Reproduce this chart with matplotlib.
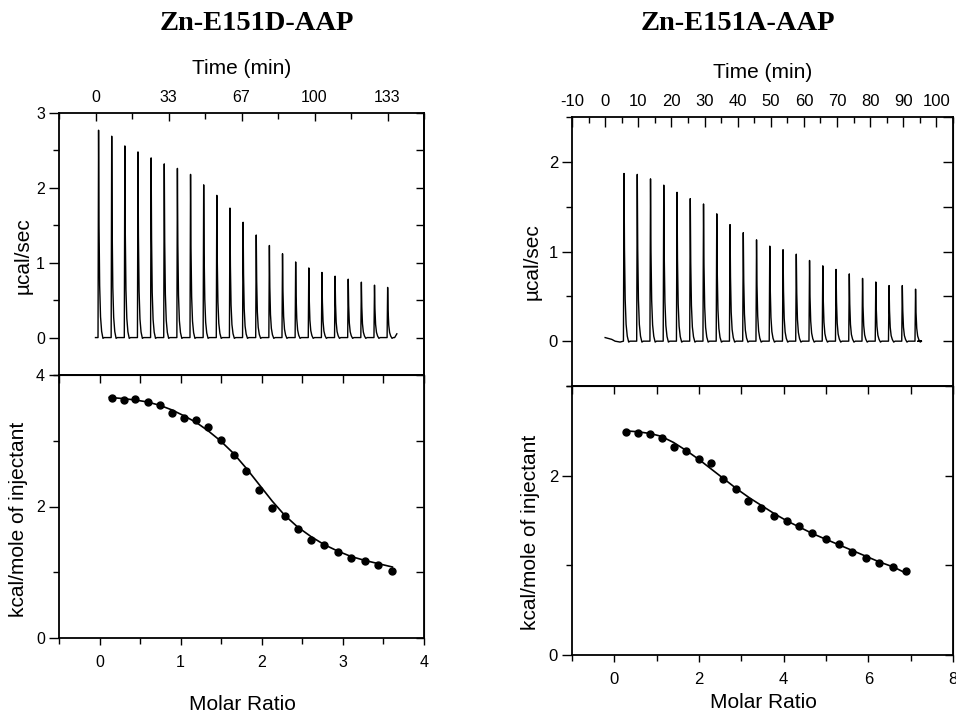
import numpy as np
import matplotlib
matplotlib.use("Agg")
import matplotlib.pyplot as plt
from matplotlib.ticker import FixedLocator, MultipleLocator, NullFormatter

plt.rcParams['axes.unicode_minus'] = False
plt.rcParams['font.family'] = ['Liberation Sans', 'DejaVu Sans']

# ---------------- data ----------------
titles = ["Zn-E151D-AAP", "Zn-E151A-AAP"]

# Left: Zn-E151D-AAP raw injection peaks (time in min, height in µcal/sec)
d_peak_times = [1.4, 7.4, 13.4, 19.4, 25.4, 31.4, 37.4, 43.4, 49.4, 55.4, 61.4, 67.4,
                73.4, 79.4, 85.4, 91.4, 97.4, 103.4, 109.4, 115.4, 121.4, 127.4, 133.4]
d_peak_heights = [2.77, 2.69, 2.56, 2.48, 2.40, 2.32, 2.26, 2.18, 2.04, 1.90, 1.73, 1.54,
                  1.37, 1.23, 1.12, 1.01, 0.93, 0.87, 0.82, 0.78, 0.74, 0.70, 0.67]
d_base_start, d_base_end, d_base_end_val = 0.0, 137.6, 0.05

# Left: integrated heats
d_ratio = [0.148, 0.296, 0.440, 0.593, 0.741, 0.889, 1.037, 1.193, 1.342, 1.494, 1.654, 1.811,
           1.967, 2.128, 2.284, 2.444, 2.609, 2.769, 2.938, 3.103, 3.272, 3.436, 3.609]
d_heat = [3.656, 3.625, 3.630, 3.595, 3.549, 3.428, 3.342, 3.316, 3.210, 3.018, 2.785, 2.547,
          2.253, 1.980, 1.853, 1.651, 1.489, 1.408, 1.306, 1.210, 1.165, 1.114, 1.013]
d_fit_x = [0.12, 0.30, 0.44, 0.59, 0.74, 0.89, 1.04, 1.19, 1.34, 1.49, 1.65, 1.81,
           1.97, 2.13, 2.28, 2.44, 2.61, 2.77, 2.94, 3.10, 3.27, 3.44, 3.61]
d_fit_y = [3.66, 3.64, 3.62, 3.59, 3.54, 3.47, 3.38, 3.28, 3.15, 3.00, 2.81, 2.58,
           2.33, 2.08, 1.87, 1.69, 1.54, 1.42, 1.32, 1.24, 1.18, 1.13, 1.08]

# Right: Zn-E151A-AAP raw injection peaks
a_peak_times = [5.7, 9.7, 13.7, 17.7, 21.7, 25.7, 29.7, 33.7, 37.7, 41.7, 45.7, 49.7,
                53.7, 57.7, 61.7, 65.7, 69.7, 73.7, 77.7, 81.7, 85.7, 89.7, 93.7]
a_peak_heights = [1.87, 1.86, 1.81, 1.74, 1.66, 1.59, 1.53, 1.42, 1.30, 1.21, 1.13, 1.06,
                  1.02, 0.97, 0.90, 0.84, 0.80, 0.75, 0.70, 0.66, 0.62, 0.62, 0.58]
a_base_start, a_base_end, a_base_end_val = 0.0, 95.4, 0.0
a_pre_t = [0.0, 1.0, 2.0, 3.0, 4.5]
a_pre_y = [0.04, 0.03, 0.02, 0.0, -0.01]

# Right: integrated heats
a_ratio = [0.276, 0.559, 0.843, 1.126, 1.409, 1.701, 1.992, 2.276, 2.575, 2.866, 3.165, 3.465,
           3.764, 4.071, 4.370, 4.677, 4.992, 5.299, 5.622, 5.937, 6.252, 6.575, 6.890]
a_heat = [2.485, 2.474, 2.466, 2.422, 2.317, 2.272, 2.187, 2.142, 1.966, 1.854, 1.720, 1.638,
          1.545, 1.496, 1.440, 1.358, 1.291, 1.235, 1.146, 1.078, 1.022, 0.985, 0.940]
a_fit_x = [0.25, 0.55, 0.85, 1.10, 1.40, 1.70, 2.00, 2.30, 2.60, 2.90, 3.20, 3.50,
           3.80, 4.10, 4.40, 4.70, 5.00, 5.30, 5.60, 5.90, 6.25, 6.60, 6.90]
a_fit_y = [2.50, 2.49, 2.47, 2.44, 2.37, 2.28, 2.18, 2.07, 1.96, 1.85, 1.75, 1.66,
           1.57, 1.49, 1.42, 1.35, 1.29, 1.23, 1.17, 1.11, 1.04, 0.98, 0.91]

# peak shape (relative time offsets, fraction of height)
shape_dt = [-0.25, 0.0, 0.2, 0.5, 0.9, 1.4, 2.0, 2.6]
shape_f = [0.0, 1.0, 0.55, 0.25, 0.10, 0.03, -0.005, 0.0]


def build_trace(times, heights, t0, t1, yend, scale, pre_t=None, pre_y=None):
    xs, ys = [], []
    if pre_t is not None:
        xs += list(pre_t)
        ys += list(pre_y)
    else:
        xs.append(t0)
        ys.append(0.0)
    for t, h in zip(times, heights):
        for dt, f in zip(shape_dt, shape_f):
            xs.append(t + dt * scale)
            ys.append(h * f if f >= 0 else f * 2)
    xs += [t1 - 1.0, t1]
    ys += [0.0, yend]
    return xs, ys


fig = plt.figure(figsize=(9.56, 7.15), dpi=100)

W, H = 956.0, 715.0


def ax_rect(l, r, t, b):
    return [l / W, 1 - b / H, (r - l) / W, (b - t) / H]


LS_L = 11.5
LS_R = 12


def style_axes(ax):
    for s in ax.spines.values():
        s.set_linewidth(1.3)


# ---------------- Left panel ----------------
axLT = fig.add_axes(ax_rect(59, 424, 113, 375))
axLB = fig.add_axes(ax_rect(59, 424, 375, 638))

x, y = build_trace(d_peak_times, d_peak_heights, d_base_start, d_base_end, d_base_end_val, 1.0)
axLT.plot(x, y, color='black', lw=1.0)
axLT.set_xlim(-1000 / 60, 9000 / 60)
axLT.set_ylim(-0.5, 3)
axLT.xaxis.set_major_locator(FixedLocator([0, 100 / 3, 200 / 3, 100, 400 / 3]))
axLT.set_xticklabels(["0", "33", "67", "100", "133"])
axLT.xaxis.set_minor_locator(MultipleLocator(50 / 3))
axLT.xaxis.set_ticks_position('top')
axLT.tick_params(axis='x', which='both', direction='in', top=True, bottom=False, pad=6,
                 width=1.0, labelsize=LS_L)
axLT.tick_params(axis='x', which='major', length=6)
axLT.tick_params(axis='x', which='minor', length=4)
axLT.yaxis.set_major_locator(MultipleLocator(1))
axLT.yaxis.set_minor_locator(MultipleLocator(0.5))
axLT.tick_params(axis='y', which='both', direction='out', left=True, right=False, pad=3,
                 width=1.0, labelsize=LS_L)
axLT.tick_params(axis='y', which='major', length=7)
axLT.tick_params(axis='y', which='minor', length=4)
axLTr = axLT.secondary_yaxis('right')
axLTr.yaxis.set_major_locator(MultipleLocator(0.5))
axLTr.tick_params(which='both', direction='in', length=6, width=1.0, labelright=False)
axLTr.yaxis.set_major_formatter(NullFormatter())
style_axes(axLT)
axLTr.spines['right'].set_linewidth(1.3)

axLB.plot(d_fit_x, d_fit_y, color='black', lw=1.2)
axLB.plot(d_ratio, d_heat, 'o', color='black', ms=5)
axLB.set_xlim(-0.5, 4)
axLB.set_ylim(0, 4)
axLB.xaxis.set_major_locator(MultipleLocator(1))
axLB.xaxis.set_minor_locator(MultipleLocator(0.5))
axLB.yaxis.set_major_locator(MultipleLocator(2))
axLB.yaxis.set_minor_locator(MultipleLocator(1))
axLB.tick_params(axis='x', which='both', direction='out', pad=7, width=1.0, labelsize=LS_L)
axLB.tick_params(axis='x', which='major', length=5)
axLB.tick_params(axis='x', which='minor', length=4)
axLB.tick_params(axis='y', which='both', direction='out', pad=3, width=1.0, labelsize=LS_L)
axLB.tick_params(axis='y', which='major', length=7)
axLB.tick_params(axis='y', which='minor', length=4)
axLBt = axLB.secondary_xaxis('top')
axLBt.xaxis.set_major_locator(MultipleLocator(0.5))
axLBt.tick_params(direction='in', length=6, width=1.0, labeltop=False)
axLBt.xaxis.set_major_formatter(NullFormatter())
axLBr = axLB.secondary_yaxis('right')
axLBr.yaxis.set_major_locator(MultipleLocator(1))
axLBr.tick_params(direction='in', length=6, width=1.0, labelright=False)
axLBr.yaxis.set_major_formatter(NullFormatter())
style_axes(axLB)

# ---------------- Right panel ----------------
axRT = fig.add_axes(ax_rect(572, 953, 117, 386))
axRB = fig.add_axes(ax_rect(572, 953, 386, 655))

x, y = build_trace(a_peak_times, a_peak_heights, a_base_start, a_base_end, a_base_end_val, 0.7,
                   a_pre_t, a_pre_y)
axRT.plot(x, y, color='black', lw=1.0)
axRT.set_xlim(-10, 105)
axRT.set_ylim(-0.5, 2.5)
axRT.xaxis.set_major_locator(MultipleLocator(10))
axRT.xaxis.set_minor_locator(MultipleLocator(5))
axRT.xaxis.set_ticks_position('top')
axRT.tick_params(axis='x', which='both', direction='in', top=True, bottom=False, pad=6,
                 width=1.0, labelsize=LS_R)
axRT.tick_params(axis='x', which='major', length=7)
axRT.tick_params(axis='x', which='minor', length=4)
axRT.yaxis.set_major_locator(MultipleLocator(1))
axRT.yaxis.set_minor_locator(MultipleLocator(0.5))
axRT.tick_params(axis='y', which='both', direction='out', left=True, right=False, pad=3,
                 width=1.0, labelsize=LS_R)
axRT.tick_params(axis='y', which='major', length=7)
axRT.tick_params(axis='y', which='minor', length=4)
axRTr = axRT.secondary_yaxis('right')
axRTr.yaxis.set_major_locator(MultipleLocator(0.5))
axRTr.tick_params(direction='in', length=7, width=1.0, labelright=False)
axRTr.yaxis.set_major_formatter(NullFormatter())
style_axes(axRT)

axRB.plot(a_fit_x, a_fit_y, color='black', lw=1.2)
axRB.plot(a_ratio, a_heat, 'o', color='black', ms=5)
axRB.set_xlim(-1, 8)
axRB.set_ylim(0, 3)
axRB.xaxis.set_major_locator(MultipleLocator(2))
axRB.xaxis.set_minor_locator(MultipleLocator(1))
axRB.yaxis.set_major_locator(MultipleLocator(2))
axRB.yaxis.set_minor_locator(MultipleLocator(1))
axRB.tick_params(axis='x', which='both', direction='out', pad=7, labelsize=LS_R, width=1.0)
axRB.tick_params(axis='x', which='major', length=5)
axRB.tick_params(axis='x', which='minor', length=4)
axRB.tick_params(axis='y', which='both', direction='out', pad=3, labelsize=LS_R, width=1.0)
axRB.tick_params(axis='y', which='major', length=7)
axRB.tick_params(axis='y', which='minor', length=4)
axRBt = axRB.secondary_xaxis('top')
axRBt.xaxis.set_major_locator(MultipleLocator(1))
axRBt.tick_params(direction='in', length=6, width=1.0, labeltop=False)
axRBt.xaxis.set_major_formatter(NullFormatter())
axRBr = axRB.secondary_yaxis('right')
axRBr.yaxis.set_major_locator(MultipleLocator(1))
axRBr.tick_params(direction='in', length=6, width=1.0, labelright=False)
axRBr.yaxis.set_major_formatter(NullFormatter())
style_axes(axRB)

# ---------------- Text ----------------
def ftext(px, py, s, **kw):
    fig.text(px / W, 1 - py / H, s, **kw)

title_kw = dict(ha='center', va='center', fontsize=20.5, fontweight='bold',
                family=['Liberation Serif', 'DejaVu Serif'])
ftext(257, 24, titles[0], **title_kw)
ftext(738, 24, titles[1], **title_kw)

lab_kw = dict(ha='center', va='center', fontsize=15)
ftext(242, 68, "Time (min)", **lab_kw)
ftext(763, 72, "Time (min)", **lab_kw)
ftext(242, 705, "Molar Ratio", **lab_kw)
ftext(763, 703, "Molar Ratio", **lab_kw)
ftext(23, 256, "µcal/sec", rotation=90, **lab_kw)
ftext(19, 519, "kcal/mole of injectant", rotation=90, **lab_kw)
ftext(532, 262, "µcal/sec", rotation=90, **lab_kw)
ftext(530, 532, "kcal/mole of injectant", rotation=90, **lab_kw)

fig.savefig("out.png", dpi=100)
